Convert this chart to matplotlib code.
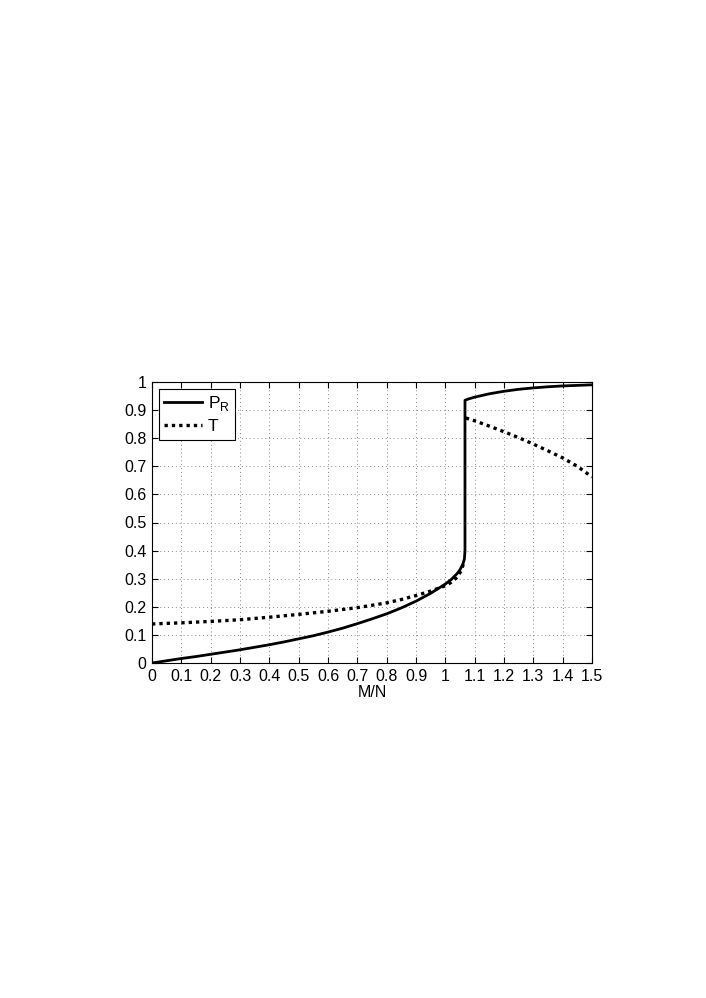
import numpy as np
import matplotlib
matplotlib.use("Agg")
import matplotlib.pyplot as plt

# P_R curve (solid): lower branch, vertical jump, upper branch
pr_x = [0.0, 0.05, 0.1, 0.15, 0.2, 0.25, 0.3, 0.35, 0.4, 0.45, 0.5, 0.55, 0.6,
        0.65, 0.7, 0.75, 0.8, 0.85, 0.9, 0.95, 1.0, 1.02, 1.04, 1.05, 1.06,
        1.065, 1.067,
        1.067, 1.08, 1.1, 1.125, 1.15, 1.2, 1.25, 1.3, 1.35, 1.4, 1.45, 1.5]
pr_y = [0.0, 0.008, 0.016, 0.023, 0.031, 0.039, 0.047, 0.056, 0.065, 0.075, 0.086, 0.097, 0.110,
        0.124, 0.140, 0.157, 0.175, 0.196, 0.220, 0.248, 0.281, 0.297, 0.318, 0.332, 0.352,
        0.370, 0.40,
        0.935, 0.940, 0.946, 0.952, 0.958, 0.967, 0.974, 0.979, 0.983, 0.986, 0.988, 0.990]

# T curve (dotted), two branches separated by the jump
t_x = [0.0, 0.1, 0.2, 0.3, 0.4, 0.5, 0.6, 0.7, 0.8, 0.85, 0.9, 0.95, 1.0,
       1.02, 1.04, 1.055, 1.065, np.nan,
       1.07, 1.1, 1.15, 1.2, 1.25, 1.3, 1.35, 1.4, 1.45, 1.5]
t_y = [0.139, 0.143, 0.148, 0.154, 0.163, 0.173, 0.184, 0.197, 0.214, 0.226, 0.240, 0.256, 0.275,
       0.287, 0.305, 0.330, 0.365, np.nan,
       0.872, 0.862, 0.843, 0.823, 0.802, 0.779, 0.755, 0.730, 0.700, 0.662]

x_ticks = np.round(np.arange(0, 1.51, 0.1), 1)
y_ticks = np.round(np.arange(0, 1.01, 0.1), 1)

plt.rcParams["font.family"] = ["Liberation Sans", "DejaVu Sans"]
plt.rcParams["mathtext.fontset"] = "custom"
plt.rcParams["mathtext.rm"] = "Liberation Sans"

fig = plt.figure(figsize=(7.06, 9.98), dpi=100)
ax = fig.add_axes([152 / 706, 1 - 663 / 998, 440 / 706, 281 / 998])

ax.plot(pr_x, pr_y, color="black", linewidth=2.0, label="P$_\\mathregular{R}$")
ax.plot(t_x, t_y, color="black", linewidth=2.4, linestyle=(0, (1, 1.2)), label="T")

ax.set_xlim(0, 1.5)
ax.set_ylim(0, 1)
ax.set_xticks(x_ticks)
ax.set_yticks(y_ticks)
ax.set_xticklabels([f"{v:g}" for v in x_ticks])
ax.set_yticklabels([f"{v:g}" for v in y_ticks])
ax.tick_params(direction="in", length=4, labelsize=11.5, top=True, right=True,
               width=0.8, pad=4)
ax.grid(True, color="#888888", linestyle=(0, (1, 3)), linewidth=0.7)
for s in ax.spines.values():
    s.set_linewidth(0.8)
ax.set_xlabel("M/N", fontsize=11.5, labelpad=1)

leg = ax.legend(loc="upper left", fontsize=12.5, fancybox=False, framealpha=1,
                edgecolor="black", handlelength=2.2, handletextpad=0.3,
                borderaxespad=0.4, borderpad=0.3, labelspacing=0.35)
leg.get_frame().set_linewidth(0.8)

fig.savefig("out.png", dpi=100)
